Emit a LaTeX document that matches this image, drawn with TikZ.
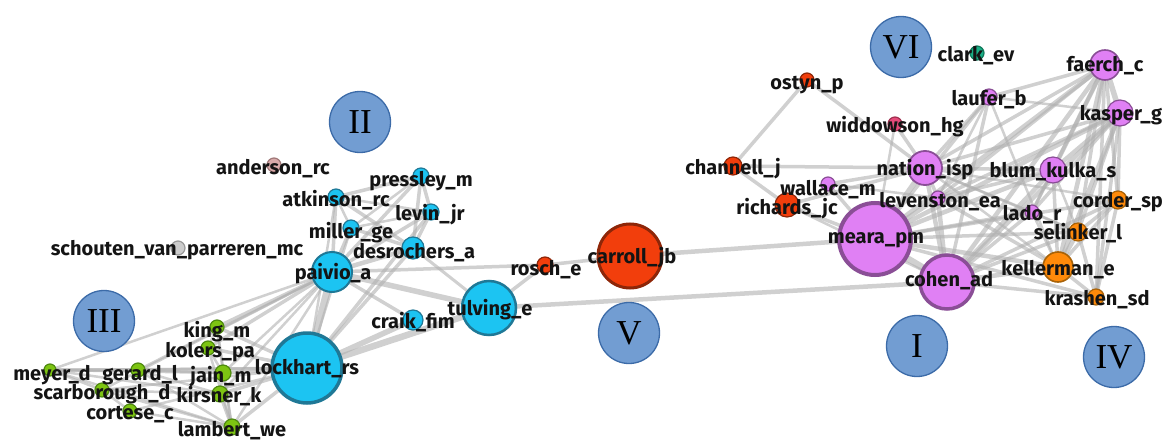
\documentclass[tikz,border=0pt]{standalone}
\usepackage{fontspec}
\newfontfamily\labfont{Fira Sans}
\newfontfamily\romfont{Liberation Serif}
\pgfdeclarelayer{background}
\pgfdeclarelayer{foreground}
\pgfsetlayers{background,main,foreground}
\definecolor{cyanF}{HTML}{1CC4F2}
\definecolor{cyanD}{HTML}{1F7896}
\definecolor{greenF}{HTML}{7DC412}
\definecolor{greenD}{HTML}{4E8A10}
\definecolor{redF}{HTML}{F23E0C}
\definecolor{redD}{HTML}{8E2608}
\definecolor{violF}{HTML}{E080F4}
\definecolor{violD}{HTML}{8A4E96}
\definecolor{orF}{HTML}{FF8A0A}
\definecolor{orD}{HTML}{A86208}
\definecolor{pinkF}{HTML}{E64A7A}
\definecolor{pinkD}{HTML}{A0304F}
\definecolor{tealF}{HTML}{1AAE86}
\definecolor{tealD}{HTML}{10785A}
\definecolor{rosyF}{HTML}{D8AAAA}
\definecolor{rosyD}{HTML}{A07878}
\definecolor{greyF}{HTML}{CCCCCC}
\definecolor{greyD}{HTML}{999999}
\definecolor{romF}{HTML}{729DD2}
\definecolor{romD}{HTML}{3C6BA8}
\definecolor{edgeC}{HTML}{B0B0B0}
\tikzset{
  au/.style={circle, inner sep=0pt, line width=1.2pt},
  cy/.style={au, fill=cyanF, draw=cyanD},
  gr/.style={au, fill=greenF, draw=greenD},
  rd/.style={au, fill=redF, draw=redD},
  vi/.style={au, fill=violF, draw=violD},
  og/.style={au, fill=orF, draw=orD},
  lab/.style={anchor=mid, inner sep=0pt, font=\labfont\bfseries\fontsize{20}{20}\selectfont, text=black!92},
  roman/.style={circle, fill=romF, draw=romD, line width=1.3pt, minimum size=61pt, inner sep=0pt, font=\romfont\fontsize{35}{35}\selectfont},
  edge/.style={draw=edgeC, opacity=0.6, line cap=round}
}
\begin{document}
\begin{tikzpicture}[x=1pt,y=-1pt]
\useasboundingbox (0,0) rectangle (1164,441);
% Roman numeral circles
\node[roman] (rI) at (917,346) {I};
\node[roman] (rII) at (360,122) {II};
\node[roman] (rIII) at (104,321) {III};
\node[roman] (rIV) at (1114,357) {IV};
\node[roman] (rV) at (629,333) {V};
\node[roman] (rVI) at (901,47) {VI};
% cyan cluster
\node[cy, minimum size=70pt, line width=3.5pt] (lockhart) at (307,368) {};
\node[cy, minimum size=40pt, line width=2pt] (paivio) at (332,272) {};
\node[cy, minimum size=54pt, line width=2.5pt] (tulving) at (489,308) {};
\node[cy, minimum size=20pt] (craik) at (413,320) {};
\node[cy, minimum size=22pt] (desroch) at (413,248) {};
\node[cy, minimum size=16pt] (atkinson) at (336,197) {};
\node[cy, minimum size=16pt] (levin) at (431,212) {};
\node[cy, minimum size=16pt] (miller) at (351,228) {};
\node[cy, minimum size=16pt] (pressley) at (421,176) {};
\node[au, fill=rosyF, draw=rosyD, minimum size=14pt] (anderson) at (274,165) {};
\node[au, fill=greyF, draw=greyD, minimum size=14pt] (schouten) at (178,248) {};
\node[rd, minimum size=16pt] (rosch) at (545,265) {};
\node[rd, minimum size=64pt, line width=3pt] (carroll) at (630,256) {};
% green cluster
\node[gr, minimum size=12pt] (meyer) at (50,370) {};
\node[gr, minimum size=14pt] (gerard) at (138,370) {};
\node[gr, minimum size=14pt] (scarb) at (102,390) {};
\node[gr, minimum size=14pt] (cortese) at (130,411) {};
\node[gr, minimum size=14pt] (king) at (217,327) {};
\node[gr, minimum size=14pt] (kolers) at (208,348) {};
\node[gr, minimum size=16pt] (jain) at (223,373) {};
\node[gr, minimum size=16pt] (kirsner) at (220,394) {};
\node[gr, minimum size=16pt] (lambert) at (232,427) {};
% right cluster
\node[rd, minimum size=14pt] (ostyn) at (807,80) {};
\node[au, fill=pinkF, draw=pinkD, minimum size=14pt] (widdowson) at (895,124) {};
\node[rd, minimum size=18pt] (channell) at (733,166) {};
\node[vi, minimum size=14pt] (wallace) at (828,184) {};
\node[rd, minimum size=24pt] (richards) at (787,205) {};
\node[vi, minimum size=34pt, line width=1.8pt] (nation) at (925,168) {};
\node[vi, minimum size=26pt] (blum) at (1053,170) {};
\node[vi, minimum size=14pt] (leven) at (938,198) {};
\node[vi, minimum size=14pt] (lado) at (1032,212) {};
\node[og, minimum size=18pt] (corder) at (1118,200) {};
\node[og, minimum size=18pt] (selinker) at (1078,232) {};
\node[og, minimum size=30pt, line width=1.6pt] (keller) at (1058,267) {};
\node[og, minimum size=16pt] (krashen) at (1096,297) {};
\node[vi, minimum size=72pt, line width=4pt] (meara) at (875,239) {};
\node[vi, minimum size=54pt, line width=3.5pt] (cohen) at (947,282) {};
\node[au, fill=tealF, draw=tealD, minimum size=14pt] (clark) at (977,53) {};
\node[vi, minimum size=30pt, line width=1.6pt] (faerch) at (1105,65) {};
\node[vi, minimum size=16pt] (laufer) at (989,97) {};
\node[vi, minimum size=26pt] (kasper) at (1120,113) {};
% edges
\begin{pgfonlayer}{background}
\foreach \a/\b/\w in {
 lockhart/paivio/7, lockhart/tulving/6.5, lockhart/craik/5.5, lockhart/desroch/3.5, lockhart/levin/3.5,
 lockhart/miller/2.5, lockhart/atkinson/2.5,
 paivio/tulving/5.5, paivio/craik/3.5, paivio/rosch/3.5, paivio/desroch/4.5, paivio/miller/3.5,
 paivio/atkinson/3.5, paivio/levin/3.5, paivio/pressley/3.5,
 atkinson/pressley/3.5, atkinson/levin/2.5, atkinson/miller/2.5, atkinson/desroch/3.5,
 pressley/levin/3.5, pressley/desroch/3.5, pressley/miller/2.5, levin/desroch/3.5, levin/miller/2.5,
 miller/desroch/3.5, desroch/tulving/3, tulving/rosch/3.5, rosch/carroll/3.5,
 carroll/meara/4.5, tulving/cohen/4.5,
 king/lockhart/3.5, king/paivio/3.5, kolers/lockhart/3.5, kolers/paivio/3.5, jain/lockhart/3.5,
 jain/paivio/2.5, kirsner/lockhart/3.5, kirsner/paivio/2.5, lambert/lockhart/3.5, lambert/paivio/2.5,
 meyer/lockhart/2.5, meyer/paivio/2.5, gerard/lockhart/3.5, gerard/paivio/2.5, scarb/lockhart/2.5,
 cortese/lockhart/2.5, scarb/paivio/2.5,
 meyer/gerard/3.5, meyer/scarb/2.5, meyer/lambert/2.5, meyer/kirsner/2.5, gerard/lambert/2.5,
 gerard/jain/2.5, gerard/kirsner/2.5, scarb/lambert/2.5, scarb/cortese/2.5, cortese/lambert/2.5,
 kirsner/lambert/3.5, jain/lambert/2.5, king/lambert/2.5, kolers/lambert/2.5, king/kolers/2.5,
 kolers/jain/2.5, jain/kirsner/2.5, king/jain/2.5, meyer/jain/2.5, scarb/kirsner/2.5,
 ostyn/channell/3.5, ostyn/nation/3.5, channell/nation/3.5, channell/richards/3.5,
 richards/meara/3.5, richards/nation/3.5, richards/cohen/2.5, widdowson/nation/3.5,
 widdowson/meara/2.5, wallace/nation/3.5, wallace/meara/3.5, wallace/leven/2.5,
 nation/meara/5.5, nation/cohen/4.5, nation/leven/3.5, nation/laufer/3.5, nation/faerch/3.5,
 nation/kasper/3.5, nation/blum/3.5, nation/lado/2.5, nation/corder/2.5, nation/selinker/2.5,
 nation/keller/2.5,
 meara/cohen/6.5, meara/leven/4.5, meara/laufer/3.5, meara/faerch/4.5, meara/kasper/4.5,
 meara/blum/4.5, meara/lado/3.5, meara/corder/3.5, meara/selinker/3.5, meara/keller/4.5,
 meara/krashen/3.5,
 cohen/leven/4.5, cohen/faerch/4.5, cohen/kasper/4.5, cohen/blum/4.5, cohen/lado/3.5,
 cohen/corder/3.5, cohen/selinker/3.5, cohen/keller/4.5, cohen/krashen/3.5, cohen/laufer/3.5,
 faerch/kasper/5.5, faerch/laufer/3.5, faerch/blum/4.5, faerch/leven/3.5, faerch/lado/3.5,
 faerch/corder/3.5, faerch/selinker/3.5, faerch/keller/4.5, faerch/krashen/3.5,
 kasper/blum/4.5, kasper/leven/3.5, kasper/lado/3.5, kasper/corder/3.5, kasper/selinker/3.5,
 kasper/keller/4.5, kasper/krashen/3.5, kasper/laufer/2.5,
 blum/leven/3.5, blum/lado/2.5, blum/keller/3.5, blum/selinker/2.5, leven/lado/2.5,
 leven/keller/3.5, lado/keller/2.5, lado/selinker/2.5, corder/selinker/3.5, corder/keller/3.5,
 corder/krashen/3.5, selinker/keller/4.5, selinker/krashen/3.5, keller/krashen/3.5,
 laufer/leven/2.5, laufer/keller/2.5}
 {\draw[edge, line width=\w pt] (\a.center) -- (\b.center);}
\end{pgfonlayer}
% labels
\begin{pgfonlayer}{foreground}
\node[lab] (meyer-t) at (52,378) {meyer\_d};
\node[lab] (gerard-t) at (140,378) {gerard\_l};
\node[lab] (scarb-t) at (102,397) {scarborough\_d};
\node[lab] (cortese-t) at (130,417) {cortese\_c};
\node[lab] (king-t) at (217,335) {king\_m};
\node[lab] (kolers-t) at (210,355) {kolers\_pa};
\node[lab] (jain-t) at (221,380) {jain\_m};
\node[lab] (kirsner-t) at (219,400) {kirsner\_k};
\node[lab] (lambert-t) at (232,434) {lambert\_we};
\node[lab] (lockhart-t) at (307,372) {lockhart\_rs};
\node[lab] (paivio-t) at (333,277) {paivio\_a};
\node[lab] (craik-t) at (413,326) {craik\_fim};
\node[lab] (atkinson-t) at (336,204) {atkinson\_rc};
\node[lab] (levin-t) at (430,218) {levin\_jr};
\node[lab] (miller-t) at (351,236) {miller\_ge};
\node[lab] (desroch-t) at (414,256) {desrochers\_a};
\node[lab] (pressley-t) at (421,184) {pressley\_m};
\node[lab] (anderson-t) at (273,172) {anderson\_rc};
\node[lab] (schouten-t) at (177,253) {schouten\_van\_parreren\_mc};
\node[lab] (rosch-t) at (546,273) {rosch\_e};
\node[lab] (carroll-t) at (632,261) {carroll\_jb};
\node[lab] (tulving-t) at (490,313) {tulving\_e};
\node[lab] (ostyn-t) at (807,87) {ostyn\_p};
\node[lab] (widdowson-t) at (895,130) {widdowson\_hg};
\node[lab] (channell-t) at (733,172) {channell\_j};
\node[lab] (wallace-t) at (828,193) {wallace\_m};
\node[lab] (richards-t) at (787,212) {richards\_jc};
\node[lab] (nation-t) at (925,173) {nation\_isp};
\node[lab] (blum-t) at (1053,175) {blum\_kulka\_s};
\node[lab] (leven-t) at (940,205) {levenston\_ea};
\node[lab] (lado-t) at (1032,218) {lado\_r};
\node[lab] (corder-t) at (1118,205) {corder\_sp};
\node[lab] (selinker-t) at (1078,237) {selinker\_l};
\node[lab] (keller-t) at (1058,273) {kellerman\_e};
\node[lab] (krashen-t) at (1097,303) {krashen\_sd};
\node[lab] (meara-t) at (876,241) {meara\_pm};
\node[lab] (cohen-t) at (949,284) {cohen\_ad};
\node[lab] (clark-t) at (976,59) {clark\_ev};
\node[lab] (faerch-t) at (1105,69) {faerch\_c};
\node[lab] (laufer-t) at (989,103) {laufer\_b};
\node[lab] (kasper-t) at (1121,118) {kasper\_g};
\end{pgfonlayer}
\end{tikzpicture}
\end{document}
